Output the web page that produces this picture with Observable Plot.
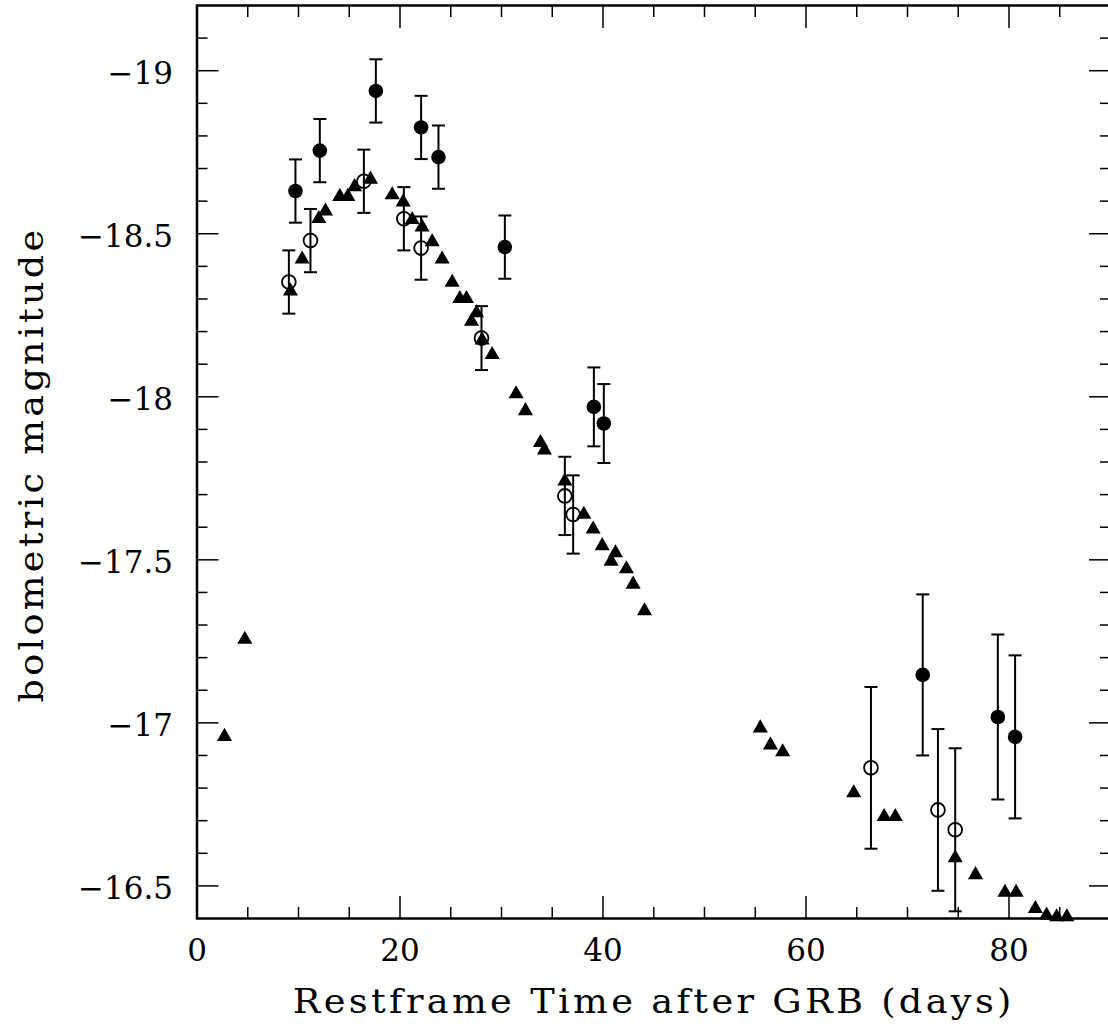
<!DOCTYPE html>
<html>
<head>
<meta charset="utf-8">
<script src="https://cdn.jsdelivr.net/npm/d3@7"></script>
<script src="https://cdn.jsdelivr.net/npm/@observablehq/plot@0.6"></script>
<style>
html, body { margin: 0; padding: 0; background: #fff; overflow: hidden; }
</style>
</head>
<body>
<div id="chart"></div>
<script>
// ---- data ----
// filled triangles (comparison light curve)
const triT   = [2.71, 4.71, 9.21, 10.36, 12.00, 12.66, 14.07, 14.86, 15.52, 17.09, 19.23, 20.31, 21.20, 22.18, 23.17, 24.15, 25.14, 25.89, 26.55, 27.04, 27.54, 28.09, 29.08, 31.44, 32.36, 33.84, 34.23, 36.24, 38.11, 39.03, 39.92, 40.80, 41.23, 42.31, 42.97, 44.09, 55.5, 56.5, 57.7, 64.7, 67.7, 68.8, 74.7, 76.7, 79.6, 80.7, 82.6, 83.7, 84.7, 85.7];
const triMag = [-16.958, -17.256, -18.324, -18.422, -18.546, -18.569, -18.614, -18.614, -18.644, -18.667, -18.619, -18.597, -18.543, -18.520, -18.475, -18.422, -18.351, -18.301, -18.301, -18.231, -18.257, -18.174, -18.129, -18.009, -17.957, -17.859, -17.836, -17.741, -17.639, -17.594, -17.543, -17.495, -17.521, -17.472, -17.425, -17.343, -16.984, -16.932, -16.911, -16.785, -16.712, -16.712, -16.586, -16.534, -16.48, -16.48, -16.43, -16.41, -16.405, -16.405];

// filled circles with error bars
const filledT   = [9.70, 12.10, 17.62, 22.08, 23.79, 30.33, 39.10, 40.08, 71.5, 78.9, 80.6];
const filledMag = [-18.631, -18.755, -18.938, -18.826, -18.735, -18.459, -17.969, -17.918, -17.147, -17.018, -16.957];
const filledErr = [0.097, 0.097, 0.097, 0.097, 0.097, 0.097, 0.121, 0.121, 0.247, 0.253, 0.25];

// open circles with error bars
const openT   = [9.05, 11.18, 16.44, 20.38, 22.08, 28.03, 36.24, 37.06, 66.4, 73.0, 74.7];
const openMag = [-18.352, -18.479, -18.661, -18.546, -18.456, -18.180, -17.696, -17.639, -16.862, -16.733, -16.672];
const openErr = [0.097, 0.097, 0.097, 0.097, 0.097, 0.098, 0.12, 0.12, 0.248, 0.248, 0.25];

// axes
const xDomain = [0, 90];
const yDomain = [-16.4, -19.2];
const xMajor = [0, 20, 40, 60, 80];
const xMinor = [5, 10, 15, 25, 30, 35, 45, 50, 55, 65, 70, 75, 85];
const yMajor = [-19, -18.5, -18, -17.5, -17, -16.5];
const yMinor = [-19.1, -18.9, -18.8, -18.7, -18.6, -18.4, -18.3, -18.2, -18.1, -17.9, -17.8, -17.7, -17.6, -17.4, -17.3, -17.2, -17.1, -16.9, -16.8, -16.7, -16.6];
const xLabel = "Restframe Time after GRB (days)";
const yLabel = "bolometric magnitude";

// ---- tables ----
const tri = triT.map((t, i) => ({t, mag: triMag[i]}));
const filled = filledT.map((t, i) => ({t, mag: filledMag[i], err: filledErr[i]}));
const open = openT.map((t, i) => ({t, mag: openMag[i], err: openErr[i]}));

const cap = {draw(ctx, size) { const h = Math.sqrt(size / Math.PI); ctx.moveTo(-h, 0); ctx.lineTo(h, 0); }};
const fmt = d => d < 0 ? "\u2212" + Math.abs(d) : String(d);
const noText = () => "";
const MAJ = 22, MIN = 11, TW = 1.5, EW = 2;

function errorMarks(data) {
  return [
    Plot.ruleX(data, {x: "t", y1: d => d.mag - d.err, y2: d => d.mag + d.err, stroke: "black", strokeWidth: EW}),
    Plot.dot(data, {x: "t", y: d => d.mag - d.err, symbol: cap, r: 6.5, fill: "none", stroke: "black", strokeWidth: EW}),
    Plot.dot(data, {x: "t", y: d => d.mag + d.err, symbol: cap, r: 6.5, fill: "none", stroke: "black", strokeWidth: EW})
  ];
}

const chart = Plot.plot({
  width: 1108,
  height: 1028,
  marginLeft: 196.5,
  marginRight: -2,
  marginTop: 5,
  marginBottom: 110,
  style: {fontFamily: "'DejaVu Serif', serif", fontSize: "30px", background: "#fff", color: "black"},
  x: {domain: xDomain, axis: null},
  y: {domain: yDomain, axis: null},
  marks: [
    // ticks (inward)
    Plot.axisX({anchor: "bottom", ticks: xMajor, tickSize: MAJ, dy: -MAJ, strokeWidth: TW, tickFormat: noText, label: null}),
    Plot.axisX({anchor: "bottom", ticks: xMinor, tickSize: MIN, dy: -MIN, strokeWidth: TW, tickFormat: noText, label: null}),
    Plot.axisX({anchor: "top", ticks: xMajor, tickSize: MAJ, dy: MAJ, strokeWidth: TW, tickFormat: noText, label: null}),
    Plot.axisX({anchor: "top", ticks: xMinor, tickSize: MIN, dy: MIN, strokeWidth: TW, tickFormat: noText, label: null}),
    Plot.axisY({anchor: "left", ticks: yMajor, tickSize: MAJ, dx: MAJ, strokeWidth: TW, tickFormat: noText, label: null}),
    Plot.axisY({anchor: "left", ticks: yMinor, tickSize: MIN, dx: MIN, strokeWidth: TW, tickFormat: noText, label: null}),
    Plot.axisY({anchor: "right", ticks: yMajor, tickSize: MAJ, dx: -MAJ, strokeWidth: TW, tickFormat: noText, label: null}),
    Plot.axisY({anchor: "right", ticks: yMinor, tickSize: MIN, dx: -MIN, strokeWidth: TW, tickFormat: noText, label: null}),
    // tick labels
    Plot.axisX({anchor: "bottom", ticks: xMajor, tickSize: 0, tickPadding: 20, fontSize: 31, tickFormat: fmt, label: null}),
    Plot.axisY({anchor: "left", ticks: yMajor, tickSize: 0, tickPadding: 24, fontSize: 31, dy: 3, tickFormat: fmt, label: null}),
    // axis titles
    Plot.text([xLabel], {frameAnchor: "bottom", text: d => d, dy: 94, lineAnchor: "bottom", textAnchor: "middle", fontSize: 33}),
    Plot.text([yLabel], {frameAnchor: "left", text: d => d, rotate: -90, dx: -154, dy: 2.5, lineAnchor: "bottom", textAnchor: "middle", fontSize: 33}),
    // data
    ...errorMarks(filled),
    ...errorMarks(open),
    Plot.dot(tri, {x: "t", y: "mag", symbol: "triangle", r: 5.6, fill: "black", stroke: "none"}),
    Plot.dot(filled, {x: "t", y: "mag", r: 7.3, fill: "black", stroke: "none"}),
    Plot.dot(open, {x: "t", y: "mag", r: 6.9, fill: "none", stroke: "black", strokeWidth: 1.8}),
    Plot.frame({stroke: "black", strokeWidth: 2.5})
  ]
});

document.getElementById("chart").appendChild(chart);
d3.select(chart).selectAll("text").each(function() {
  const s = this.textContent;
  if (s === xLabel) d3.select(this).style("letter-spacing", "3px").attr("textLength", 722).attr("lengthAdjust", "spacingAndGlyphs");
  if (s === yLabel) d3.select(this).style("letter-spacing", "3px").attr("textLength", 476).attr("lengthAdjust", "spacingAndGlyphs");
});
</script>
</body>
</html>
